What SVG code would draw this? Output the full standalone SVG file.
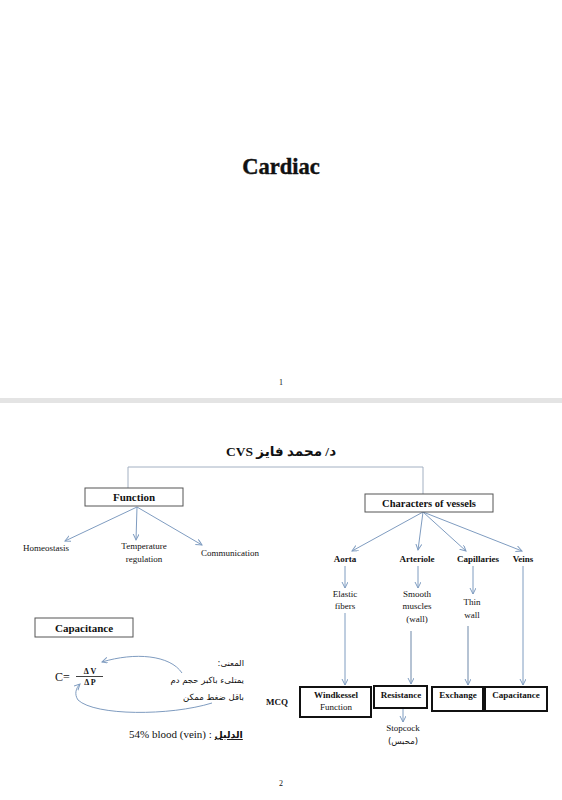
<svg xmlns="http://www.w3.org/2000/svg" width="562" height="800" viewBox="0 0 562 800">
<defs>
<style>
text{font-family:"Liberation Serif","DejaVu Serif","DejaVu Sans",serif;fill:#111}
.b{font-weight:bold}
.lbl{font-size:9px;text-anchor:middle}
.ar{font-family:"DejaVu Sans","Liberation Serif",sans-serif;font-size:8.5px}
.box{fill:#fff;stroke:#555;stroke-width:1}
.tbox{fill:#fff;stroke:#111;stroke-width:2}
.c{fill:none;stroke:#7f9cc0;stroke-width:1}
.t{fill:none;stroke:#a3b0c2;stroke-width:1}
.d{fill:none;stroke:#6d87a8;stroke-width:1}
</style>
<marker id="ah" markerWidth="8" markerHeight="8" refX="6" refY="3" orient="auto" markerUnits="userSpaceOnUse">
<path d="M0,0 L6,3 L0,6" fill="none" stroke="#7f9cc0" stroke-width="1"/>
</marker>
</defs>
<rect x="0" y="0" width="562" height="800" fill="#fff"/>
<rect x="0" y="398" width="562" height="5" fill="#e4e4e4"/>

<g id="page1">
<text x="281" y="174" font-size="22.5" class="b" text-anchor="middle" stroke="#111" stroke-width="0.4">Cardiac</text>
<text x="281" y="385" font-size="8" text-anchor="middle">1</text>
</g>

<g id="title"><text x="281" y="456" font-size="13.5" class="b" text-anchor="middle" direction="rtl" style="font-family:'Liberation Serif','DejaVu Sans',serif">د/ محمد فايز CVS</text></g>

<g id="connectors">
<polyline class="t" points="128,488 128,467 423,467 423,494"/>
<line class="c" x1="137" y1="507" x2="65" y2="541" marker-end="url(#ah)"/>
<line class="c" x1="137" y1="507" x2="136" y2="540" marker-end="url(#ah)"/>
<line class="c" x1="137" y1="507" x2="202" y2="545" marker-end="url(#ah)"/>
<line class="c" x1="423" y1="512" x2="352" y2="551" marker-end="url(#ah)"/>
<line class="c" x1="423" y1="512" x2="418" y2="550" marker-end="url(#ah)"/>
<line class="c" x1="423" y1="512" x2="466" y2="551" marker-end="url(#ah)"/>
<line class="c" x1="423" y1="512" x2="522" y2="551" marker-end="url(#ah)"/>
<line class="c" x1="345" y1="566" x2="345" y2="588" marker-end="url(#ah)"/>
<line class="c" x1="418" y1="566" x2="418" y2="588" marker-end="url(#ah)"/>
<line class="c" x1="473" y1="566" x2="473" y2="594" marker-end="url(#ah)"/>
<line class="c" x1="345" y1="613" x2="345" y2="685" marker-end="url(#ah)"/>
<line class="d" x1="411" y1="631" x2="411" y2="684" marker-end="url(#ah)"/>
<line class="d" x1="468" y1="626" x2="468" y2="685" marker-end="url(#ah)"/>
<line class="c" x1="523" y1="566" x2="523" y2="685" marker-end="url(#ah)"/>
<line class="c" x1="403" y1="708" x2="403" y2="722" marker-end="url(#ah)"/>
<path class="c" d="M182,673 C170,655 135,652 102,662" marker-end="url(#ah)"/>
<path class="c" d="M212,703 C170,716 95,716 78,700 C74,694 76,688 80,684" marker-end="url(#ah)"/>
</g>

<g id="function">
<rect class="box" x="85" y="488" width="98" height="18"/>
<text x="134" y="501" font-size="11" class="b" text-anchor="middle">Function</text>
</g>
<g id="homeostasis"><text x="46" y="551" class="lbl">Homeostasis</text></g>
<g id="temperature"><text x="144" y="549" class="lbl">Temperature</text><text x="144" y="562" class="lbl">regulation</text></g>
<g id="communication"><text x="230" y="556" class="lbl">Communication</text></g>

<g id="characters">
<rect class="box" x="365" y="494" width="128" height="18"/>
<text x="429" y="507" font-size="10.5" class="b" text-anchor="middle">Characters of vessels</text>
</g>
<g id="aorta"><text x="345" y="562" class="lbl b">Aorta</text></g>
<g id="arteriole"><text x="417" y="562" class="lbl b">Arteriole</text></g>
<g id="capillaries"><text x="478" y="562" class="lbl b">Capillaries</text></g>
<g id="veins"><text x="523" y="562" class="lbl b">Veins</text></g>

<g id="elastic"><text x="345" y="597" class="lbl">Elastic</text><text x="345" y="609" class="lbl">fibers</text></g>
<g id="smooth"><text x="417" y="597" class="lbl">Smooth</text><text x="417" y="609" class="lbl">muscles</text><text x="417" y="622" class="lbl">(wall)</text></g>
<g id="thin"><text x="472" y="605" class="lbl">Thin</text><text x="472" y="618" class="lbl">wall</text></g>

<g id="mcq"><text x="277" y="705" class="lbl b">MCQ</text></g>
<g id="windkessel">
<rect class="tbox" x="300" y="687" width="71" height="30"/>
<text x="336" y="698" class="lbl b">Windkessel</text>
<text x="336" y="710" class="lbl">Function</text>
</g>
<g id="resistance">
<rect class="tbox" x="374" y="686" width="53" height="22"/>
<text x="401" y="698" class="lbl b">Resistance</text>
</g>
<g id="exchange">
<rect class="tbox" x="432" y="687" width="51" height="24"/>
<text x="458" y="698" class="lbl b">Exchange</text>
</g>
<g id="capacitance">
<rect class="tbox" x="485" y="687" width="62" height="24"/>
<text x="516" y="698" class="lbl b">Capacitance</text>
</g>
<g id="stopcock"><text x="403" y="731" class="lbl">Stopcock</text><text x="403" y="744" class="lbl ar" style="text-anchor:middle">(محبس)</text></g>

<g id="capacitance-def">
<rect class="box" x="35" y="618" width="98" height="19"/>
<text x="84" y="632" font-size="11" class="b" text-anchor="middle">Capacitance</text>
</g>
<g id="formula">
<text x="55" y="681" font-size="12">C=</text>
<text x="90" y="674" font-size="8" class="b" text-anchor="middle">Δ V</text>
<line x1="76" y1="676.5" x2="103" y2="676.5" stroke="#111" stroke-width="0.8"/>
<text x="90" y="685" font-size="8" class="b" text-anchor="middle">Δ P</text>
</g>
<g id="meaning">
<text x="244" y="666" class="ar" text-anchor="start" direction="rtl">المعنى:</text>
<text x="244" y="683" class="ar" text-anchor="start" direction="rtl">يمتلىء باكبر حجم دم</text>
<text x="244" y="700" class="ar" text-anchor="start" direction="rtl">باقل ضغط ممكن</text>
</g>
<g id="evidence">
<text x="129" y="738" font-size="11">54% blood (vein) : <tspan class="b" style="font-family:'DejaVu Sans',sans-serif;font-size:9.5px;text-decoration:underline">الدليل</tspan></text>
</g>
<g id="page2"><text x="281" y="786" font-size="8" text-anchor="middle">2</text></g>
</svg>
